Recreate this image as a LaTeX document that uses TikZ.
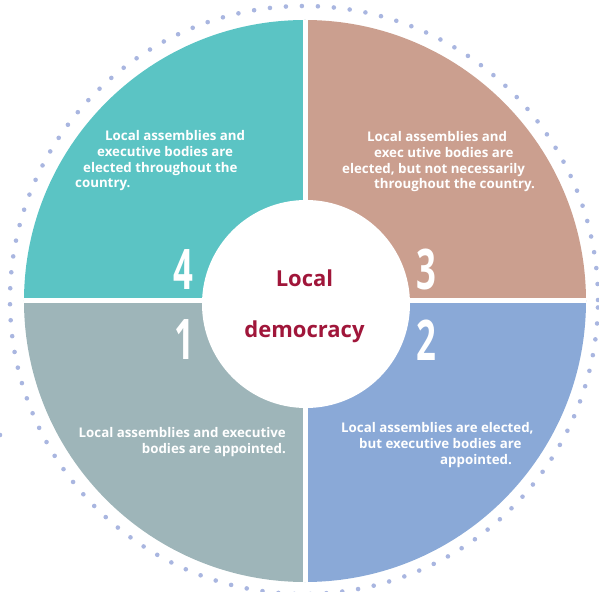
\documentclass[tikz,border=0pt]{standalone}
\usepackage{fontspec}
\setmainfont{Open Sans}
\definecolor{qteal}{HTML}{5BC4C4}
\definecolor{qbrown}{HTML}{CB9F8F}
\definecolor{qgray}{HTML}{9EB5B9}
\definecolor{qblue}{HTML}{8AA9D7}
\definecolor{qdots}{HTML}{A9B6E0}
\definecolor{qred}{HTML}{A0163A}
\newcommand{\qnum}[1]{\scalebox{0.62}[1]{#1}}
\tikzset{
	quadtext/.style={text=white,font=\bfseries\fontsize{13.3}{15.9}\selectfont,inner sep=0pt},
	quadnum/.style={text=white,font=\bfseries\fontsize{56}{56}\selectfont,inner sep=0pt},
	titletext/.style={text=qred,font=\bfseries\fontsize{22}{22}\selectfont,inner sep=0pt},
	dotring/.style={qdots,line width=4.6pt,line cap=round,dash pattern=on 0pt off 16pt},
}
\begin{document}
\begin{tikzpicture}[x=1pt,y=1pt]
		\useasboundingbox (-305,-290) rectangle (294,301) ;
		\coordinate (O) at (0,0) ;
		% four quarters
		\fill[qgray] (O)--(180:281) arc (180:270:281)--cycle ;
		\fill[qblue] (O)--(270:281) arc (270:360:281)--cycle ;
		\fill[qbrown] (O)--(0:281) arc (0:90:281)--cycle ;
		\fill[qteal] (O)--(90:281) arc (90:180:281)--cycle ;
		\draw[white,line width=5pt] (-281,0)--(281,0) (0,-281)--(0,281) ;
		\fill[white] (1,-3) circle (104) ;
		% dotted ring
		\draw[dotring] (-1,1) circle (294) ;
		\draw[dotring] (-305,-134)--(-291,-134) ;
		% numbers
		\node[quadnum] (n4) at (-122,31) {\qnum{4}} ;
		\node[quadnum] (n3) at (121,32) {\qnum{3}} ;
		\node[quadnum] (n1) at (-121,-39) {\qnum{1}} ;
		\node[quadnum] (n2) at (121,-39) {\qnum{2}} ;
		% centre
		\node[titletext,anchor=base] (title1) at (-0.5,14) {Local} ;
		\node[titletext,anchor=base] (title2) at (-0.5,-37) {democracy} ;
		% texts
		\node[quadtext,anchor=north west,align=left] (t4) at (-230,171.1) {\hspace*{30pt}Local assemblies and\\\hspace*{22pt}executive bodies are\\\hspace*{8pt}elected throughout the\\country.} ;
		\node[quadtext,anchor=north west,align=left] (t3) at (37,170.1) {\hspace*{25pt}Local assemblies and\\\hspace*{32pt}exec utive bodies are\\elected, but not necessarily\\\hspace*{32pt}throughout the country.} ;
		\node[quadtext,anchor=north east,align=right] (t1) at (-19,-125.9) {Local assemblies and executive\\bodies are appointed.} ;
		\node[quadtext,anchor=north west,align=left] (t2) at (36,-120.9) {Local assemblies are elected,\\\hspace*{18pt}but executive bodies are\\\hspace*{99pt}appointed.} ;
	\end{tikzpicture}
\end{document}
